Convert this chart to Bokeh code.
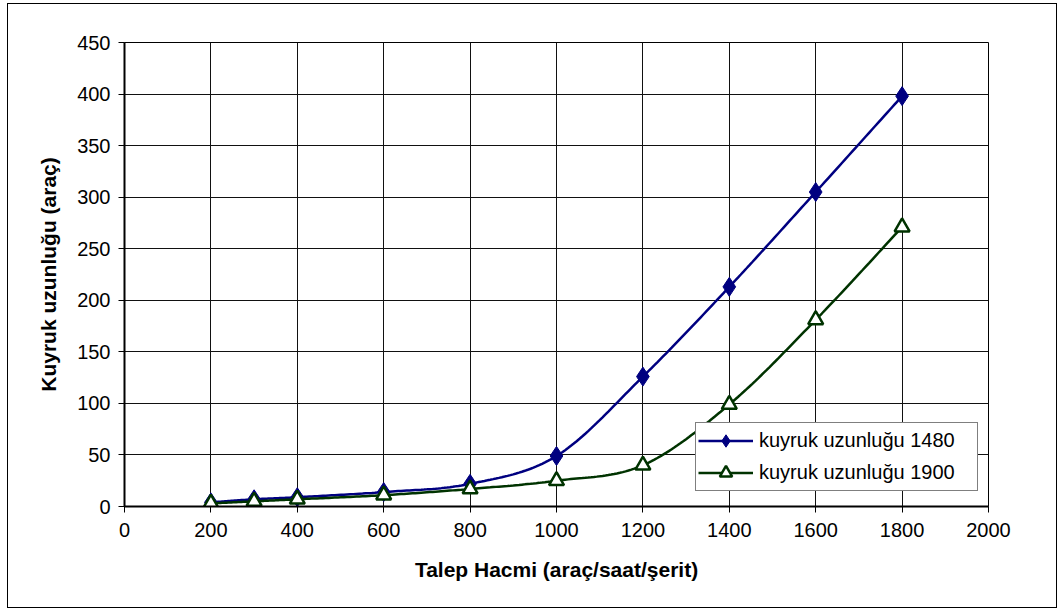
import numpy as np
from bokeh.plotting import figure
from bokeh.models import Range1d, FixedTicker, Legend, LegendItem
from bokeh.embed import file_html
from bokeh.resources import INLINE

x_vals = [200, 300, 400, 600, 800, 1000, 1200, 1400, 1600, 1800]
q1480 = [4, 7, 9, 14, 22, 49, 126, 213, 305, 398]
q1900 = [3, 5, 7, 11, 17, 25, 40, 99, 181, 271]
x_ticks = [0, 200, 400, 600, 800, 1000, 1200, 1400, 1600, 1800, 2000]
y_ticks = [0, 50, 100, 150, 200, 250, 300, 350, 400, 450]
name1 = "kuyruk uzunluğu 1480"
name2 = "kuyruk uzunluğu 1900"


def smooth(xs, ys, n=30):
    # Catmull-Rom style smoothing (like spreadsheet "smoothed line")
    xs = np.asarray(xs, float)
    ys = np.asarray(ys, float)
    px, py = [], []
    m = len(xs)
    for i in range(m - 1):
        p0 = np.array([xs[max(i - 1, 0)], ys[max(i - 1, 0)]])
        p1 = np.array([xs[i], ys[i]])
        p2 = np.array([xs[i + 1], ys[i + 1]])
        p3 = np.array([xs[min(i + 2, m - 1)], ys[min(i + 2, m - 1)]])
        c1 = p1 + (p2 - p0) / 6.0
        c2 = p2 - (p3 - p1) / 6.0
        for t in np.linspace(0, 1, n, endpoint=(i == m - 2)):
            b = ((1 - t) ** 3) * p1 + 3 * ((1 - t) ** 2) * t * c1 + 3 * (1 - t) * t * t * c2 + t ** 3 * p2
            px.append(b[0])
            py.append(b[1])
    return px, py


font = "Liberation Sans"
p = figure(width=1050, height=605, output_backend="svg", toolbar_location=None,
           x_range=Range1d(0, 2000), y_range=Range1d(0, 450),
           min_border_left=116, min_border_right=70, min_border_top=38, min_border_bottom=103,
           margin=(3, 0, 0, 7))
p.styles = {"border": "1px solid black"}
p.outline_line_color = "black"
p.outline_line_width = 1

for ax in (p.xaxis[0], p.yaxis[0]):
    ax.major_label_text_font = font
    ax.major_label_text_font_size = "20px"
    ax.major_label_text_color = "black"
    ax.axis_label_text_font = font
    ax.axis_label_text_font_size = "21px"
    ax.axis_label_text_font_style = "bold"
    ax.axis_label_text_color = "black"
    ax.axis_line_color = "black"
    ax.axis_line_width = 2
    ax.major_tick_line_color = "black"
    ax.major_tick_out = 6
    ax.major_tick_in = 0
    ax.minor_tick_line_color = None

p.xaxis.ticker = FixedTicker(ticks=x_ticks)
p.yaxis.ticker = FixedTicker(ticks=y_ticks)
p.xaxis.axis_label = "Talep Hacmi (araç/saat/şerit)"
p.yaxis.axis_label = "Kuyruk uzunluğu (araç)"
p.xaxis.axis_label_standoff = 18
p.yaxis.axis_label_standoff = 14
p.xaxis.major_label_standoff = 10
p.yaxis.major_label_standoff = 8

p.xgrid.ticker = FixedTicker(ticks=x_ticks)
p.ygrid.ticker = FixedTicker(ticks=y_ticks)
p.grid.grid_line_color = "#111111"
p.grid.grid_line_width = 1
p.background_fill_color = "white"
p.border_fill_color = "white"

blue = "#000080"
green = "#003300"

sx1, sy1 = smooth(x_vals, q1480)
sx2, sy2 = smooth(x_vals, q1900)
l1 = p.line(sx1, sy1, line_color=blue, line_width=2.5)
m1 = p.scatter(x_vals, q1480, marker="diamond", size=19, fill_color=blue, line_color=blue)
l2 = p.line(sx2, sy2, line_color=green, line_width=2.5)
m2 = p.scatter(x_vals, q1900, marker="triangle", size=15, fill_color="white", line_color=green, line_width=2.5)

legend = Legend(items=[LegendItem(label=name1, renderers=[l1, m1]),
                       LegendItem(label=name2, renderers=[l2, m2])],
                location=(571, 15))
legend.label_text_font = font
legend.label_text_font_size = "20px"
legend.label_text_color = "black"
legend.border_line_color = "black"
legend.border_line_width = 1
legend.background_fill_color = "white"
legend.background_fill_alpha = 1
legend.glyph_width = 55
legend.glyph_height = 31
legend.label_height = 31
legend.label_width = 216
legend.label_standoff = 6
legend.spacing = 1
legend.padding = 2
legend.margin = 0
p.add_layout(legend, "center")

open("out.html", "w").write(file_html(p, INLINE))
